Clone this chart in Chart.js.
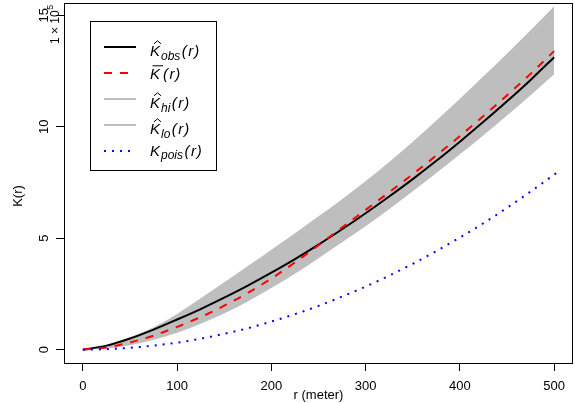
<!DOCTYPE html>
<html><head><meta charset="utf-8">
<script src="https://cdn.jsdelivr.net/npm/chart.js@4/dist/chart.umd.min.js"></script>
<style>html,body{margin:0;padding:0;background:#fff;}canvas{display:block;}</style>
</head><body>
<canvas id="c" width="575" height="403"></canvas>
<script>
// ---- data (K values in units of 1e5) ----
const rVals = [0,25,50,75,100,125,150,175,200,225,250,275,300,325,350,375,400,425,450,475,500];
const kObs  = [0,0.18,0.5,0.9,1.35,1.82,2.33,2.87,3.45,4.06,4.71,5.4,6.12,6.87,7.65,8.47,9.33,10.22,11.14,12.1,13.12];
const kMean = [0,0.1,0.32,0.63,1.02,1.46,1.97,2.54,3.19,3.91,4.68,5.48,6.27,7.06,7.87,8.71,9.58,10.48,11.41,12.37,13.39];
const kHi   = [0,0.18,0.55,1.0,1.6,2.3,3.02,3.75,4.48,5.22,5.98,6.75,7.56,8.42,9.33,10.28,11.26,12.26,13.28,14.33,15.4];
const kLo   = [0,0.05,0.2,0.44,0.76,1.16,1.62,2.16,2.76,3.4,4.1,4.82,5.54,6.3,7.1,7.92,8.76,9.62,10.5,11.41,12.35];
const rPois = [0,25,50,75,100,125,150,175,200,225,250,275,300,325,350,375,400,425,450,475,500,506];
const kPois = [0,0.02,0.08,0.18,0.31,0.49,0.71,0.96,1.26,1.59,1.96,2.38,2.83,3.32,3.85,4.42,5.03,5.67,6.36,7.09,7.85,8.04];
const xTicks = [0,100,200,300,400,500];
const yTicks = [0,5,10,15];
const yTickLabels = ['0','5','10','15'];
const xTitle = 'r (meter)';
const yTitle = 'K(r)';
const legendSubs = ['obs', '', 'hi', 'lo', 'pois'];
const legendDecos = ['hat', 'bar', 'hat', 'hat', ''];

const FONT = "'Liberation Sans', Arial, Helvetica, sans-serif";
const pts = (xs, ys) => xs.map((x, i) => ({x: x, y: ys[i]}));

const dsBase = {pointRadius: 0, borderCapStyle: 'butt', cubicInterpolationMode: 'monotone'};
const datasets = [
  Object.assign({}, dsBase, {label: 'hi', data: pts(rVals, kHi), borderWidth: 0, borderColor: '#bebebe', backgroundColor: '#bebebe', fill: '+1', order: 5}),
  Object.assign({}, dsBase, {label: 'lo', data: pts(rVals, kLo), borderWidth: 0, borderColor: '#bebebe', backgroundColor: '#bebebe', fill: false, order: 4}),
  Object.assign({}, dsBase, {label: 'obs', data: pts(rVals, kObs), borderWidth: 2, borderColor: '#000000', fill: false, order: 2}),
  Object.assign({}, dsBase, {label: 'mean', data: pts(rVals, kMean), borderWidth: 2, borderColor: '#ff0000', borderDash: [8, 8], fill: false, order: 1}),
  Object.assign({}, dsBase, {label: 'pois', data: pts(rPois, kPois), borderWidth: 2, borderColor: '#0000ff', borderDash: [2, 6], fill: false, order: 0})
];

const legendStyles = [
  {color: '#000000', width: 2, dash: []},
  {color: '#ff0000', width: 2, dash: [8, 8]},
  {color: '#bebebe', width: 2, dash: []},
  {color: '#bebebe', width: 2, dash: []},
  {color: '#0000ff', width: 2, dash: [2, 6]}
];

function drawKLabel(ctx, x, yLine, sub, deco) {
  const center = yLine + (deco === 'hat' ? 4 : (deco === 'bar' ? 1 : -0.5));
  const base = center + 5.3;
  ctx.fillStyle = '#000';
  ctx.textAlign = 'left';
  ctx.textBaseline = 'alphabetic';
  ctx.font = 'italic 15px ' + FONT;
  ctx.fillText('K', x, base);
  const kw = ctx.measureText('K').width;
  ctx.strokeStyle = '#000';
  ctx.lineWidth = 1;
  ctx.setLineDash([]);
  if (deco === 'hat') {
    ctx.beginPath();
    ctx.moveTo(x + 4, base - 12.5);
    ctx.lineTo(x + 7.5, base - 15.5);
    ctx.lineTo(x + 11, base - 12.5);
    ctx.stroke();
  } else if (deco === 'bar') {
    ctx.beginPath();
    ctx.moveTo(x + 2.5, base - 13.5);
    ctx.lineTo(x + 13, base - 13.5);
    ctx.stroke();
  }
  let cx = x + kw;
  if (sub) {
    ctx.font = 'italic 12px ' + FONT;
    ctx.fillText(sub, cx + 1, base + 3.5);
    cx += ctx.measureText(sub).width + 2.5;
  } else {
    cx += 3;
  }
  ctx.font = 'italic 15px ' + FONT;
  ctx.fillText('(', cx, base); cx += ctx.measureText('(').width + 1.5;
  ctx.fillText('r', cx, base); cx += ctx.measureText('r').width + 0.8;
  ctx.fillText(')', cx, base);
}

const annot = {
  id: 'annot',
  afterDraw(chart) {
    const ctx = chart.ctx, a = chart.chartArea, ys = chart.scales.y;
    ctx.save();
    // plot box
    ctx.strokeStyle = '#000'; ctx.lineWidth = 1; ctx.setLineDash([]);
    ctx.strokeRect(Math.round(a.left) + 0.5, Math.round(a.top) + 0.5,
                   Math.round(a.right - a.left) - 1, Math.round(a.bottom - a.top));
    // y tick labels (rotated)
    ctx.fillStyle = '#000';
    ctx.font = '13px ' + FONT;
    ctx.textAlign = 'center'; ctx.textBaseline = 'middle';
    yTicks.forEach((v, i) => {
      const py = ys.getPixelForValue(v);
      ctx.save(); ctx.translate(44, py); ctx.rotate(-Math.PI / 2);
      ctx.fillText(yTickLabels[i], 0, 0); ctx.restore();
    });
    // y title
    ctx.save(); ctx.translate(18, 196); ctx.rotate(-Math.PI / 2);
    ctx.fillText(yTitle, 0, 0); ctx.restore();
    // multiplier label 1 x 10^5
    ctx.save(); ctx.translate(56, 44); ctx.rotate(-Math.PI / 2);
    ctx.textAlign = 'left';
    ctx.font = '12px ' + FONT;
    ctx.fillText('1 \u00d7 10', 0, 0);
    const w = ctx.measureText('1 \u00d7 10').width;
    ctx.font = '9px ' + FONT;
    ctx.fillText('5', w + 0.5, -5);
    ctx.restore();
    // x title
    ctx.font = '13px ' + FONT;
    ctx.textAlign = 'center'; ctx.textBaseline = 'middle';
    ctx.fillText(xTitle, (a.left + a.right) / 2, 395);
    // legend
    ctx.fillStyle = '#fff';
    ctx.fillRect(91, 22, 125, 148);
    ctx.strokeStyle = '#000'; ctx.lineWidth = 1;
    ctx.strokeRect(90.5, 21.5, 126, 149);
    const rowsY = [47, 73, 99, 125, 151];
    rowsY.forEach((yy, i) => {
      const st = legendStyles[i];
      ctx.strokeStyle = st.color; ctx.lineWidth = st.width; ctx.setLineDash(st.dash);
      ctx.lineCap = 'butt';
      ctx.beginPath(); ctx.moveTo(104, yy); ctx.lineTo(136, yy); ctx.stroke();
      ctx.setLineDash([]);
      drawKLabel(ctx, 150, yy, legendSubs[i], legendDecos[i]);
    });
    ctx.restore();
  }
};

const gridOpts = {display: true, drawOnChartArea: false, drawTicks: true, tickLength: 8, color: '#000', lineWidth: 1};

new Chart(document.getElementById('c'), {
  type: 'line',
  data: {datasets: datasets},
  options: {
    responsive: false, animation: false, devicePixelRatio: 1,
    layout: {padding: {left: 0, right: 2, top: 3, bottom: 0}},
    plugins: {legend: {display: false}, tooltip: {enabled: false}},
    scales: {
      x: {
        type: 'linear', min: -20, max: 520,
        afterBuildTicks: s => { s.ticks = xTicks.map(v => ({value: v})); },
        afterFit: s => { s.height = 40; },
        ticks: {color: '#000', font: {family: FONT, size: 13}, padding: 8, maxRotation: 0, minRotation: 0, autoSkip: false},
        grid: gridOpts,
        border: {display: false}
      },
      y: {
        type: 'linear', min: -0.6, max: 15.55,
        afterBuildTicks: s => { s.ticks = yTicks.map(v => ({value: v})); },
        afterFit: s => { s.width = 64; },
        ticks: {display: false},
        grid: gridOpts,
        border: {display: false}
      }
    }
  },
  plugins: [annot]
});
</script>
</body></html>
